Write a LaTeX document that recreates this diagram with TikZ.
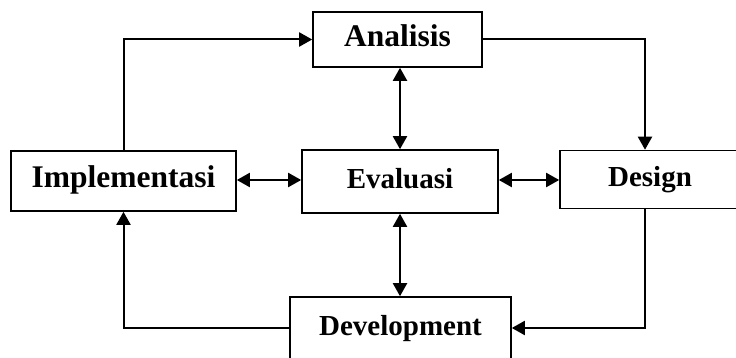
\documentclass[tikz,border=0pt]{standalone}
\usepackage{fontspec}
\setmainfont{Liberation Serif}
\usetikzlibrary{arrows.meta}
\begin{document}
\begin{tikzpicture}[x=1pt,y=-1pt,
  box/.style={draw, line width=1.6pt, rectangle, inner sep=0pt, text height=20pt, text depth=6pt, font=\bfseries\fontsize{29}{32}\selectfont},
  bigtext/.style={font=\bfseries\fontsize{31.5}{34}\selectfont},
  conn/.style={line width=2pt, -{Triangle[length=13pt,width=14pt]}},
  dconn/.style={line width=2pt, {Triangle[length=13pt,width=14pt]}-{Triangle[length=13pt,width=14pt]}}
]
\useasboundingbox (0,0) rectangle (736,358);
\node[box, bigtext, minimum width=169pt, minimum height=55pt] (anal) at (397.5,39.5) {Analisis};
\node[box, minimum width=196pt, minimum height=63pt] (eval) at (400,181.5) {Evaluasi};
\node[box, bigtext, minimum width=225pt, minimum height=60pt] (impl) at (123.5,181) {Implementasi};
\node[box, minimum width=180pt, minimum height=58pt] (design) at (650,179.5) {Design};
\node[box, minimum width=221pt, minimum height=62pt] (dev) at (400.5,328) {Development};
\coordinate (h1) at (0,180);
\draw[conn] (impl.north) |- (anal.west);
\draw[conn] (anal.east) -| ([xshift=-5pt]design.north);
\draw[conn] ([xshift=-5pt]design.south) |- (dev.east);
\draw[conn] (dev.west) -| (impl.south);
\draw[dconn] (impl.east |- h1) -- (eval.west |- h1);
\draw[dconn] (eval.east |- h1) -- (design.west |- h1);
\draw[dconn] (anal.south -| eval.north) -- (eval.north);
\draw[dconn] (eval.south) -- (dev.north -| eval.south);
\end{tikzpicture}
\end{document}
